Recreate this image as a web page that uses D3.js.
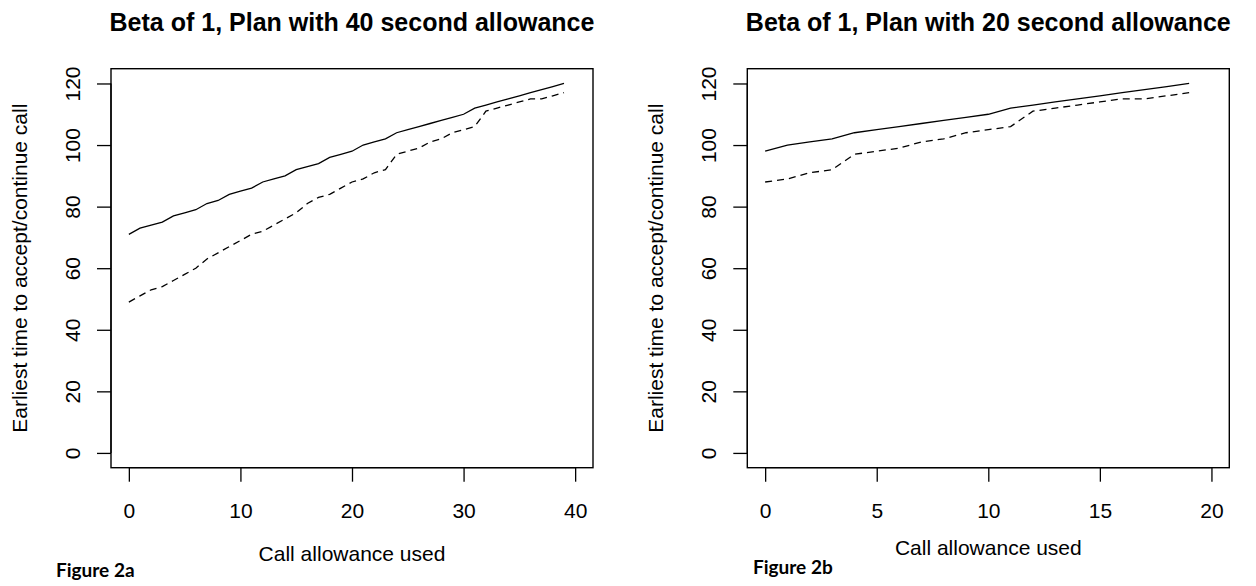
<!DOCTYPE html>
<html><head><meta charset="utf-8">
<script src="https://cdn.jsdelivr.net/npm/d3@7"></script>
<style>body{margin:0;background:#fff}svg{display:block}</style>
</head><body>
<svg id="c" width="1256" height="586"></svg>
<script>
// ---- data ----
const callsA = d3.range(0, 40);            // call allowance used, panel a
const solidA = [71,73,74,75,77,78,79,81,82,84,85,86,88,89,90,92,93,94,96,97,98,100,101,102,104,105,106,107,108,109,110,112,113,114,115,116,117,118,119,120];
const dashedA = [49,51,53,54,56,58,60,63,65,67,69,71,72,74,76,78,81,83,84,86,88,89,91,92,97,98,99,101,102,104,105,106,111,112,113,114,115,115,116,117];
const callsB = d3.range(0, 20);
const solidB = [98,100,101,102,104,105,106,107,108,109,110,112,113,114,115,116,117,118,119,120];
const dashedB = [88,89,91,92,97,98,99,101,102,104,105,106,111,112,113,114,115,115,116,117];
const yTicks = [0,20,40,60,80,100,120];
const xTicksA = [0,10,20,30,40];
const xTicksB = [0,5,10,15,20];
const titles = ["Beta of 1, Plan with 40 second allowance", "Beta of 1, Plan with 20 second allowance"];
const xLabel = "Call allowance used";
const yLabel = "Earliest time to accept/continue call";
const figLabels = ["Figure 2a", "Figure 2b"];

const svg = d3.select("#c");
const FONT = "'Liberation Sans', Arial, sans-serif";

function panel(opt) {
  const {x0, x1, y0, y1, xDom, xTicks, calls, solid, dashed, title, fig, figX, figY} = opt;
  const g = svg.append("g");
  const x = d3.scaleLinear().domain(xDom).range([x0, x1]);
  const y = d3.scaleLinear().domain([-4.8, 124.8]).range([y1, y0]);

  // y axis
  const ya = g.append("g").attr("transform", `translate(${x0},0)`)
    .call(d3.axisLeft(y).tickValues(yTicks).tickSize(14).tickSizeOuter(0).tickPadding(16));
  ya.select(".domain").attr("d", `M0,${y(0)}V${y(120)}`).attr("stroke", "#000").attr("stroke-width", 1.3);
  ya.selectAll(".tick line").attr("stroke", "#000").attr("stroke-width", 1.3);
  ya.selectAll(".tick text")
    .attr("x", null).attr("dy", null)
    .attr("transform", "translate(-31,0) rotate(-90)")
    .attr("text-anchor", "middle")
    .attr("font-family", FONT).attr("font-size", 21).attr("fill", "#000");

  // x axis
  const xa = g.append("g").attr("transform", `translate(0,${y1})`)
    .call(d3.axisBottom(x).tickValues(xTicks).tickSize(14).tickSizeOuter(0).tickPadding(0));
  xa.select(".domain").attr("d", `M${x(xTicks[0])},0H${x(xTicks[xTicks.length-1])}`).attr("stroke", "#000").attr("stroke-width", 1.3);
  xa.selectAll(".tick line").attr("stroke", "#000").attr("stroke-width", 1.3);
  xa.selectAll(".tick text").attr("y", 50).attr("dy", null)
    .attr("font-family", FONT).attr("font-size", 21).attr("fill", "#000");

  // box
  g.append("rect").attr("x", x0).attr("y", y0).attr("width", x1 - x0).attr("height", y1 - y0)
    .attr("fill", "none").attr("stroke", "#000").attr("stroke-width", 1.4);

  const line = d3.line().x((d, i) => x(calls[i])).y(d => y(d));
  g.append("path").datum(solid).attr("d", line).attr("fill", "none").attr("stroke", "#000").attr("stroke-width", 1.3);
  g.append("path").datum(dashed).attr("d", line).attr("fill", "none").attr("stroke", "#000").attr("stroke-width", 1.3)
    .attr("stroke-dasharray", "7,5");

  // title
  g.append("text").attr("x", (x0 + x1) / 2).attr("y", 31).attr("text-anchor", "middle")
    .attr("font-family", FONT).attr("font-weight", "bold").attr("font-size", 25).text(title);
  // x label
  g.append("text").attr("x", (x0 + x1) / 2).attr("y", opt.xlabY).attr("text-anchor", "middle")
    .attr("font-family", FONT).attr("font-size", 21).text(xLabel);
  // y label
  g.append("text").attr("transform", `translate(${x0 - 84},${(y0 + y1) / 2}) rotate(-90)`).attr("text-anchor", "middle")
    .attr("font-family", FONT).attr("font-size", 21).text(yLabel);
  // figure label
  g.append("text").attr("x", figX).attr("y", figY)
    .attr("font-family", "Lato, 'Open Sans', sans-serif").attr("font-weight", "bold").attr("font-size", 19).text(fig);
}

panel({x0:111, x1:593, y0:68.7, y1:467.7, xDom:[-1.6, 41.6], xTicks:xTicksA, calls:callsA, solid:solidA, dashed:dashedA,
  title:titles[0], fig:figLabels[0], figX:56, figY:577, xlabY:561});
panel({x0:747.3, x1:1229.3, y0:68.7, y1:467.7, xDom:[-0.8, 20.8], xTicks:xTicksB, calls:callsB, solid:solidB, dashed:dashedB,
  title:titles[1], fig:figLabels[1], figX:753, figY:574, xlabY:555});
</script>
</body></html>
